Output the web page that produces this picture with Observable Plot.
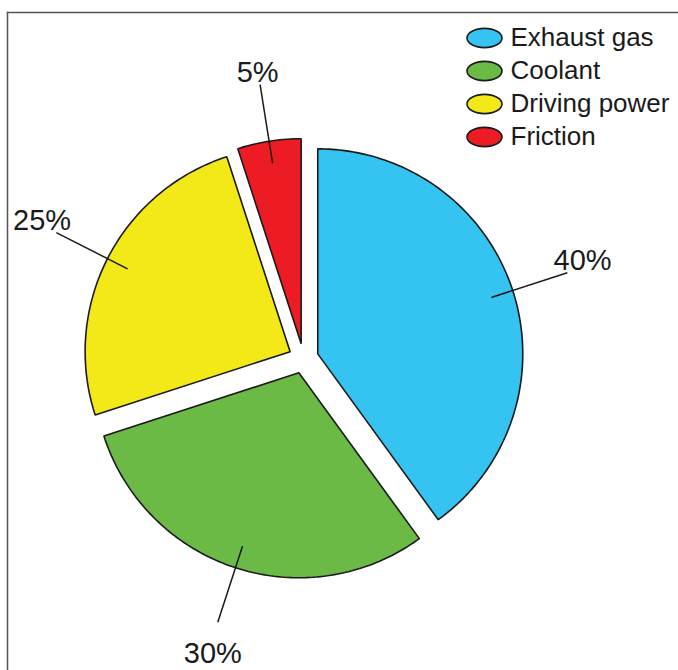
<!DOCTYPE html>
<html><head><meta charset="utf-8">
<script src="https://cdn.jsdelivr.net/npm/d3@7"></script>
<script src="https://cdn.jsdelivr.net/npm/@observablehq/plot@0.6"></script>
<style>body{margin:0;background:#fff;} #chart svg{display:block;}</style>
</head><body><div id="chart"></div>
<script>
// ---- data ----
const categories = ["Exhaust gas", "Coolant", "Driving power", "Friction"];
const values = [40, 30, 25, 5];
const labels = ["40%", "30%", "25%", "5%"];
const colors = ["#35c4f1", "#6aba45", "#f3e919", "#ed1c24"];

// ---- layout ----
const W = 678, H = 670;
const cx = 303, cy = 358, R = 205, explode = 15;
const font = "'Liberation Sans', Arial, Helvetica, sans-serif";

const pie = d3.pie().sort(null).value(d => d.value)(
  categories.map((c, i) => ({name: c, value: values[i], label: labels[i]}))
);
const slices = pie.map(p => {
  const mid = (p.startAngle + p.endAngle) / 2;
  return {...p.data, start: p.startAngle, end: p.endAngle, mid,
    ox: cx + explode * Math.sin(mid), oy: cy - explode * Math.cos(mid)};
});
const at = (s, r) => ({x: s.ox + r * Math.sin(s.mid), y: s.oy - r * Math.cos(s.mid)});
const rIn = 0.89 * R, rOut = 1.28 * R;
// label sits just beyond the leader's outer end, above it (or below for lower slices)
const labelPos = s => {
  const e = at(s, rOut);
  return {x: e.x + 16 * Math.sin(s.mid), y: e.y + (Math.cos(s.mid) > 0 ? -12 : 31)};
};

const polyPts = slices.flatMap(s => {
  const n = Math.max(4, Math.ceil((s.end - s.start) / (Math.PI / 180)));
  const pts = [{name: s.name, x: s.ox, y: s.oy}];
  for (let k = 0; k <= n; k++) {
    const a = s.start + (s.end - s.start) * k / n;
    pts.push({name: s.name, x: s.ox + R * Math.sin(a), y: s.oy - R * Math.cos(a)});
  }
  return pts;
});

const ellipse = {
  draw(ctx, size) {
    const rx = Math.sqrt(size / Math.PI), ry = rx * 0.55, k = 0.5523;
    ctx.moveTo(rx, 0);
    ctx.bezierCurveTo(rx, k * ry, k * rx, ry, 0, ry);
    ctx.bezierCurveTo(-k * rx, ry, -rx, k * ry, -rx, 0);
    ctx.bezierCurveTo(-rx, -k * ry, -k * rx, -ry, 0, -ry);
    ctx.bezierCurveTo(k * rx, -ry, rx, -k * ry, rx, 0);
    ctx.closePath();
  }
};

const legendX = 484, legendY = 37.5, legendStep = 33;

const chart = Plot.plot({
  width: W, height: H,
  marginTop: 12, marginLeft: 7, marginRight: 0, marginBottom: 0,
  x: {domain: [7, 678], axis: null},
  y: {domain: [670, 12], axis: null},
  color: {domain: categories, range: colors},
  style: {fontFamily: font, background: "#fff"},
  marks: [
    Plot.frame({anchor: "top", stroke: "#555", strokeWidth: 1.5}),
    Plot.frame({anchor: "left", stroke: "#555", strokeWidth: 1.5}),
    Plot.line(polyPts, {x: "x", y: "y", z: "name", fill: "name", stroke: "#1a1a1a",
      strokeWidth: 1.6, curve: "linear-closed", strokeLinejoin: "miter"}),
    Plot.link(slices, {
      x1: s => at(s, rIn).x, y1: s => at(s, rIn).y,
      x2: s => at(s, rOut).x, y2: s => at(s, rOut).y,
      stroke: "#1a1a1a", strokeWidth: 1.5}),
    Plot.text(slices, {
      x: s => labelPos(s).x, y: s => labelPos(s).y,
      text: "label", fontSize: 29, fill: "#1a1a1a"}),
    Plot.dot(categories, {x: () => legendX, y: (d, i) => legendY + i * legendStep,
      symbol: ellipse, r: 17.5, fill: d => d, stroke: "#1a1a1a", strokeWidth: 1.6}),
    Plot.text(categories, {x: () => legendX + 26, y: (d, i) => legendY + i * legendStep,
      text: d => d, textAnchor: "start", fontSize: 26, fill: "#1a1a1a"})
  ]
});
document.getElementById("chart").appendChild(chart);
</script>
</body></html>
